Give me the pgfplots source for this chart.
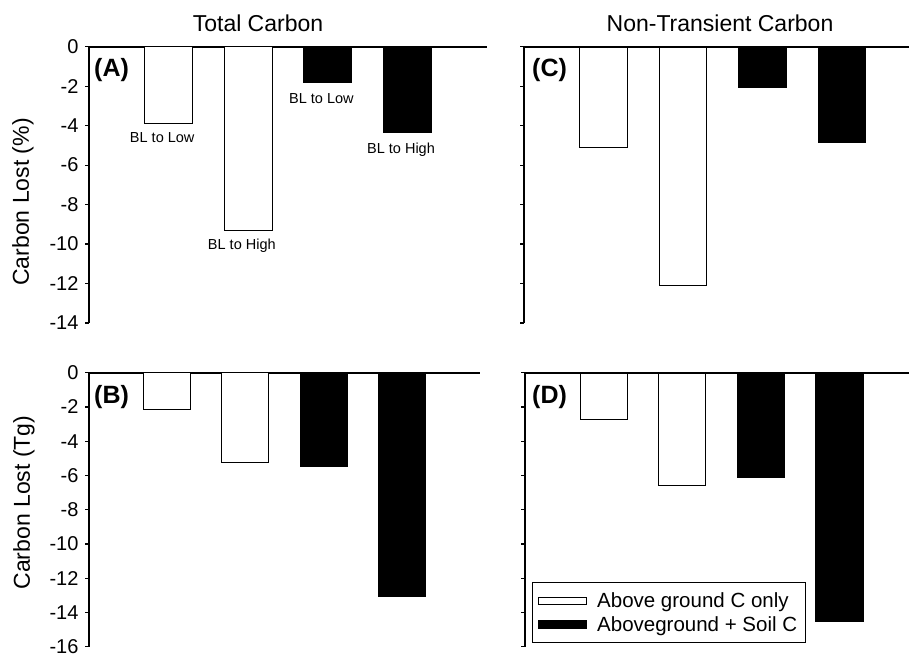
\documentclass[border=0pt]{standalone}
\usepackage{fontspec}
\setmainfont{Liberation Sans}
\usepackage{pgfplots}
\pgfplotsset{compat=1.18}

\pgfplotsset{
  panel/.style={
    scale only axis,
    anchor=south west,
    axis x line*=top,
    axis y line*=left,
    axis line style={line width=2pt},
    xtick=\empty,
    xmin=0,
    ytick distance=2,
    ymax=0,
    tick align=outside,
    major tick length=4pt,
    ytick style={line width=1.2pt, black},
    /pgf/number format/assume math mode=true,
    yticklabel style={font=\fontsize{20}{24}\selectfont, xshift=-3pt},
    enlargelimits=false,
    clip=false,
  },
  whitebar/.style={ybar, bar width=0.6, draw=black, fill=white, line width=1pt,
    legend image code/.code={\draw[draw=black, fill=white, line width=1pt] (0pt,-3.5pt) rectangle (48pt,3.5pt);}},
  blackbar/.style={ybar, bar width=0.6, draw=black, fill=black, line width=1pt,
    legend image code/.code={\draw[draw=black, fill=black, line width=1pt] (0pt,-4pt) rectangle (48pt,4pt);}},
}

\begin{document}
\begin{tikzpicture}
\path[use as bounding box] (0pt,0pt) rectangle (909pt,653pt);

% Panel A
\begin{axis}[panel, at={(89pt,330pt)}, width=398pt, height=276.3pt, xmax=5, ymin=-14]
\addplot[whitebar] coordinates {(1,-3.88) (2,-9.29)};
\addplot[blackbar] coordinates {(3,-1.82) (4,-4.34)};
\node[anchor=north west, inner sep=0pt, font=\fontsize{25}{30}\selectfont\bfseries] at (rel axis cs:0,1) [xshift=5pt, yshift=-11pt] {(A)};
\node[font=\fontsize{14.5}{17}\selectfont] at (axis cs:0.92,-4.63) {BL to Low};
\node[font=\fontsize{14.5}{17}\selectfont] at (axis cs:1.92,-10.08) {BL to High};
\node[font=\fontsize{14.5}{17}\selectfont] at (axis cs:2.92,-2.61) {BL to Low};
\node[font=\fontsize{14.5}{17}\selectfont] at (axis cs:3.92,-5.23) {BL to High};
\end{axis}

% Panel C
\begin{axis}[panel, at={(524pt,330pt)}, width=385pt, height=276.3pt, xmax=4.843, ymin=-14, yticklabels={}]
\addplot[whitebar] coordinates {(1,-5.1) (2,-12.12)};
\addplot[blackbar] coordinates {(3,-2.06) (4,-4.83)};
\node[anchor=north west, inner sep=0pt, font=\fontsize{25}{30}\selectfont\bfseries] at (rel axis cs:0,1) [xshift=8pt, yshift=-11pt] {(C)};
\end{axis}

% Panel B
\begin{axis}[panel, at={(89pt,6.3pt)}, width=391pt, height=274pt, xmax=5, ymin=-16]
\addplot[whitebar] coordinates {(1,-2.16) (2,-5.22)};
\addplot[blackbar] coordinates {(3,-5.5) (4,-13.05)};
\node[anchor=north west, inner sep=0pt, font=\fontsize{25}{30}\selectfont\bfseries] at (rel axis cs:0,1) [xshift=5pt, yshift=-12pt] {(B)};
\end{axis}

% Panel D
\begin{axis}[panel, at={(525pt,6.3pt)}, width=384pt, height=274pt, xmax=4.885, ymin=-16, yticklabels={},
  legend style={at={(0.0174,0.235)}, anchor=north west, draw=black, line width=1pt,
    font=\fontsize{20.5}{24}\selectfont, inner xsep=6pt, inner ysep=8pt, row sep=3pt,
    nodes={inner sep=2pt},
    /tikz/every odd column/.append style={column sep=8pt},
    /tikz/every even column/.append style={column sep=6pt}},
  legend cell align=left]
\addplot[whitebar] coordinates {(1,-2.76) (2,-6.6)};
\addlegendentry{Above ground C only}
\addplot[blackbar] coordinates {(3,-6.11) (4,-14.5)};
\addlegendentry{Aboveground + Soil C}
\node[anchor=north west, inner sep=0pt, font=\fontsize{25}{30}\selectfont\bfseries] at (rel axis cs:0,1) [xshift=7pt, yshift=-12pt] {(D)};
\end{axis}

% top lines of the right panels run to the edge
\draw[line width=2pt] (524pt,606.3pt) -- (920pt,606.3pt);
\draw[line width=2pt] (525pt,280.3pt) -- (920pt,280.3pt);

% Titles and y labels
\node[anchor=base, font=\fontsize{23}{27}\selectfont] at (258pt,621.3pt) {Total Carbon};
\node[anchor=base, font=\fontsize{23}{27}\selectfont] at (720pt,621.3pt) {Non-Transient Carbon};
\node[rotate=90, font=\fontsize{23}{27}\selectfont] at (23pt,451pt) {Carbon Lost (\%)};
\node[rotate=90, font=\fontsize{23}{27}\selectfont] at (24pt,150.5pt) {Carbon Lost (Tg)};
\end{tikzpicture}
\end{document}
